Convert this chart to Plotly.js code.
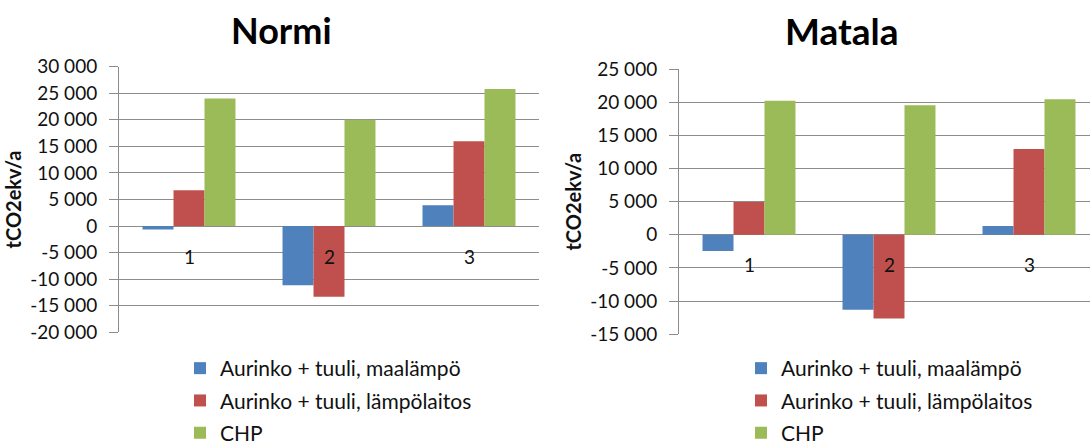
<!DOCTYPE html>
<html>
<head>
<meta charset="utf-8">
<script src="https://cdn.plot.ly/plotly-3.0.1.min.js"></script>
<style>
  html, body { margin: 0; padding: 0; background: #fff; overflow: hidden; }
  #chart { width: 1100px; height: 444px; }
</style>
</head>
<body>
<div id="chart"></div>
<script>
// Scenario numbers 1-3 on the category axis
const categories = ['1', '2', '3'];

// Legend entries (shared by both panels)
const seriesNames = [
  'Aurinko + tuuli, maalämpö',
  'Aurinko + tuuli, lämpölaitos',
  'CHP'
];
const seriesColors = ['#4F81BD', '#C0504D', '#9BBB59'];

// "Normi" panel, tCO2ekv/a
const normiMaalampo    = [-650, -11150, 3900];
const normiLampolaitos = [6750, -13300, 15950];
const normiCHP         = [24000, 20000, 25800];

// "Matala" panel, tCO2ekv/a
const matalaMaalampo    = [-2450, -11300, 1330];
const matalaLampolaitos = [4950, -12600, 12950];
const matalaCHP         = [20200, 19550, 20450];

// Axis ticks
const normiTickVals  = [-20000, -15000, -10000, -5000, 0, 5000, 10000, 15000, 20000, 25000, 30000];
const normiTickText  = ['-20 000', '-15 000', '-10 000', '-5 000', '0', '5 000', '10 000', '15 000', '20 000', '25 000', '30 000'];
const matalaTickVals = [-15000, -10000, -5000, 0, 5000, 10000, 15000, 20000, 25000];
const matalaTickText = ['-15 000', '-10 000', '-5 000', '0', '5 000', '10 000', '15 000', '20 000', '25 000'];

const panelTitles = ['Normi', 'Matala'];
const yTitle = 'tCO2ekv/a';

const FONT = 'Lato, "Open Sans", sans-serif';
const GRID = '#8c8c8c';
const TEXT = '#111';
const W = 1100, H = 444;

function barTrace(name, values, color, xa, ya, legend) {
  return {
    type: 'bar',
    name: name,
    x: categories,
    y: values,
    xaxis: xa,
    yaxis: ya,
    legend: legend,
    legendgroup: legend + name,
    marker: { color: color, line: { width: 0 } },
    hoverinfo: 'x+y+name'
  };
}

const normiSeries = [normiMaalampo, normiLampolaitos, normiCHP];
const matalaSeries = [matalaMaalampo, matalaLampolaitos, matalaCHP];

const data = [];
normiSeries.forEach((vals, i) => data.push(barTrace(seriesNames[i], vals, seriesColors[i], 'x', 'y', 'legend')));
matalaSeries.forEach((vals, i) => data.push(barTrace(seriesNames[i], vals, seriesColors[i], 'x2', 'y2', 'legend2')));

// pixel helpers for the paper coordinate system
const px = v => v / W;
const py = v => 1 - v / H;

function yAxis(range, vals, text, domain, anchor) {
  return {
    domain: domain,
    anchor: anchor,
    range: range,
    tickmode: 'array',
    tickvals: vals,
    ticktext: text,
    ticks: 'outside',
    ticklen: 9,
    tickcolor: GRID,
    tickwidth: 1,
    ticklabelstandoff: 8,
    showline: true,
    linecolor: GRID,
    linewidth: 1,
    showgrid: true,
    gridcolor: GRID,
    gridwidth: 1,
    zeroline: true,
    zerolinecolor: GRID,
    zerolinewidth: 1,
    tickfont: { family: FONT, size: 19, color: TEXT },
    title: { text: '<b>' + yTitle + '</b>', font: { family: FONT, size: 20, color: TEXT }, standoff: 3 },
    fixedrange: true
  };
}

function xAxis(domain, anchor) {
  return {
    domain: domain,
    anchor: anchor,
    type: 'category',
    range: [-0.5, categories.length - 0.5],
    showticklabels: false,
    showgrid: false,
    zeroline: false,
    showline: false,
    ticks: '',
    fixedrange: true
  };
}

const annotations = [];
// category labels sit just under the zero line
categories.forEach((c, i) => {
  ['x', 'x2'].forEach((xa, k) => {
    annotations.push({ x: i, y: 0, xref: xa, yref: k ? 'y2' : 'y', text: c, showarrow: false,
      xanchor: 'center', yanchor: 'middle', yshift: -30, font: { family: FONT, size: 19, color: TEXT } });
  });
});
// panel titles
annotations.push({ x: px(281), y: py(30), xref: 'paper', yref: 'paper', text: '<b>' + panelTitles[0] + '</b>',
  showarrow: false, xanchor: 'center', yanchor: 'middle', font: { family: FONT, size: 36, color: '#000' } });
annotations.push({ x: px(842), y: py(31), xref: 'paper', yref: 'paper', text: '<b>' + panelTitles[1] + '</b>',
  showarrow: false, xanchor: 'center', yanchor: 'middle', font: { family: FONT, size: 37, color: '#000' } });

const legendBase = {
  orientation: 'v',
  xanchor: 'left',
  yanchor: 'top',
  traceorder: 'grouped',
  tracegroupgap: 2,
  bgcolor: 'rgba(0,0,0,0)',
  borderwidth: 0,
  font: { family: FONT, size: 21, color: TEXT },
  itemclick: false,
  itemdoubleclick: false
};

const layout = {
  width: W,
  height: H,
  margin: { l: 0, r: 0, t: 0, b: 0, autoexpand: false },
  paper_bgcolor: '#fff',
  plot_bgcolor: '#fff',
  showlegend: true,
  barmode: 'group',
  bargap: 0.336,
  bargroupgap: 0,
  xaxis: xAxis([px(119), px(539)], 'y'),
  yaxis: yAxis([-20000, 30000], normiTickVals, normiTickText, [py(332.3), py(66.7)], 'x'),
  xaxis2: xAxis([px(679), px(1099)], 'y2'),
  yaxis2: yAxis([-15000, 25000], matalaTickVals, matalaTickText, [py(334.3), py(69)], 'x2'),
  legend: Object.assign({}, legendBase, { x: px(180), y: py(348) }),
  legend2: Object.assign({}, legendBase, { x: px(741), y: py(348) }),
  annotations: annotations
};

Plotly.newPlot('chart', data, layout, { displayModeBar: false, staticPlot: true });
</script>
</body>
</html>
